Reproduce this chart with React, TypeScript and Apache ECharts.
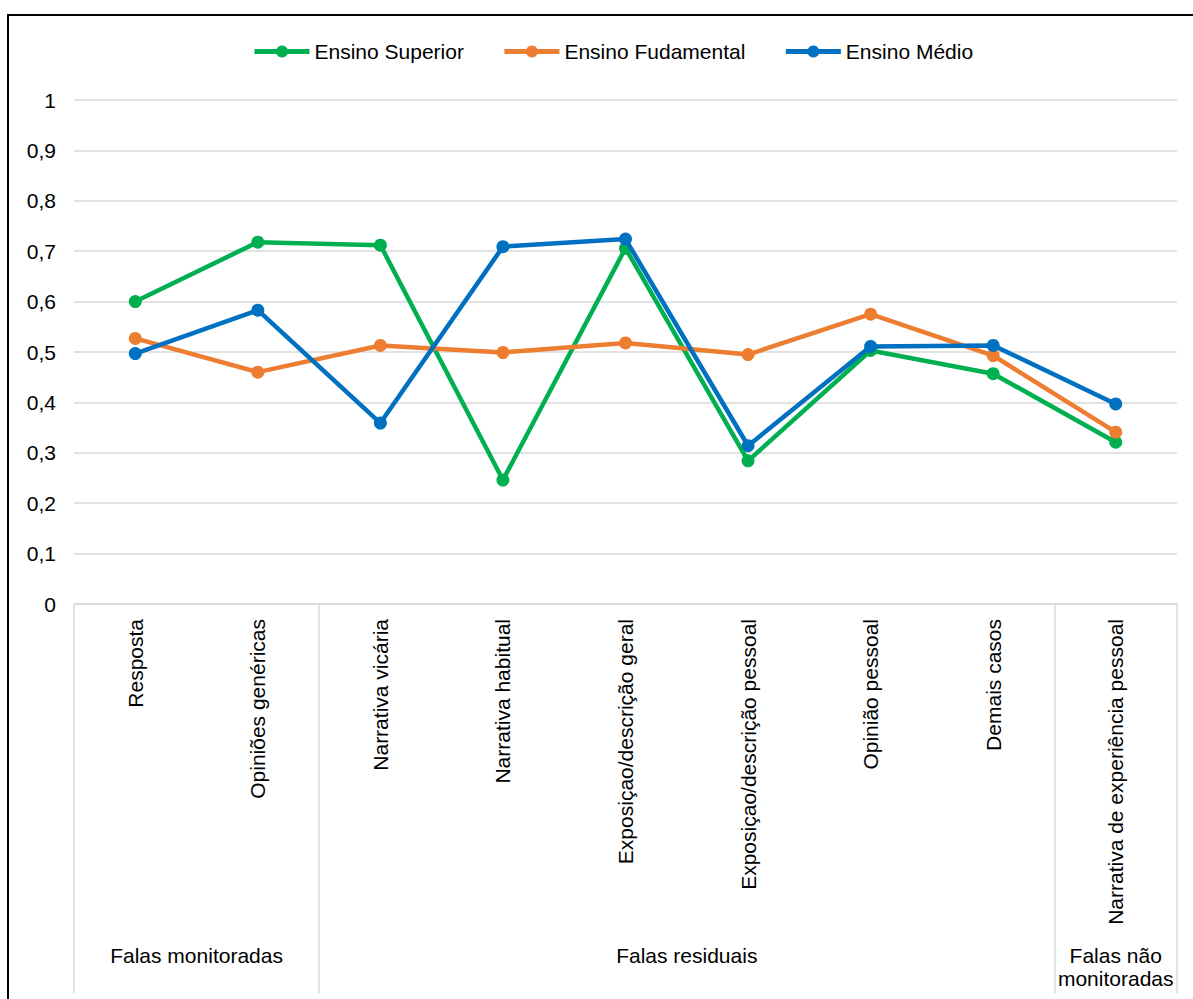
import React, { useEffect, useRef } from "react";
import * as echarts from "echarts";

// Categories (discourse types) along the horizontal axis
const categories = [
  "Resposta",
  "Opiniões genéricas",
  "Narrativa vicária",
  "Narrativa habitual",
  "Exposiçao/descrição geral",
  "Exposiçao/descrição pessoal",
  "Opinião pessoal",
  "Demais casos",
  "Narrativa de experiência pessoal",
];

// Group headings and the category positions they are centred on
const groupLabels = ["Falas monitoradas", "Falas residuais", "Falas não\nmonitoradas"];
const groupCenters = [1, 5, 8.5];
// Category indices where a group starts (tick boundaries)
const groupStarts = [0, 2, 8];

const seriesNames = ["Ensino Superior", "Ensino Fudamental", "Ensino Médio"];

const superior = [0.6, 0.718, 0.712, 0.246, 0.706, 0.284, 0.503, 0.457, 0.321];
const fundamental = [0.527, 0.46, 0.513, 0.499, 0.518, 0.495, 0.575, 0.493, 0.341];
const medio = [0.497, 0.583, 0.359, 0.709, 0.724, 0.314, 0.511, 0.513, 0.397];

const yTicks = { min: 0, max: 1, interval: 0.1 };

const colors = ["#00B050", "#ED7D31", "#0070C0"];

const FONT = "'Liberation Sans', Arial, sans-serif";
const GRID_COLOR = "#D9D9D9";

export default function App() {
  const ref = useRef<HTMLDivElement>(null);

  useEffect(() => {
    document.body.style.margin = "0";
    if (!ref.current) return;
    const chart = echarts.init(ref.current, undefined, { renderer: "svg" });

    const values = [superior, fundamental, medio];

    chart.setOption({
      animation: false,
      backgroundColor: "#fff",
      textStyle: { fontFamily: FONT },
      graphic: [
        {
          type: "rect",
          z: -10,
          shape: { x: 8, y: 15, width: 1220, height: 1100 },
          style: { fill: "none", stroke: "#000", lineWidth: 2 },
        },
      ],
      legend: {
        left: 247,
        top: 36,
        itemWidth: 55,
        itemHeight: 15,
        itemGap: 38,
        lineStyle: { width: 5 },
        textStyle: { fontSize: 21, color: "#000", fontFamily: FONT },
        data: seriesNames,
      },
      grid: { left: 74, right: 16, top: 100, bottom: 395, containLabel: false },
      xAxis: [
        {
          type: "category",
          data: categories,
          boundaryGap: true,
          axisLine: { show: true, lineStyle: { color: GRID_COLOR, width: 1.5 } },
          axisTick: {
            show: true,
            length: 389,
            interval: (index: number) => groupStarts.includes(index),
            lineStyle: { color: GRID_COLOR, width: 1.5 },
          },
          axisLabel: {
            interval: 0,
            rotate: 90,
            margin: 15,
            fontSize: 21,
            color: "#000",
            fontFamily: FONT,
          },
          splitLine: { show: false },
        },
        {
          type: "value",
          position: "bottom",
          min: 0,
          max: categories.length,
          offset: 333,
          axisLine: { show: false },
          axisTick: { show: false },
          splitLine: { show: false },
          axisLabel: {
            customValues: groupCenters,
            formatter: (v: number) => {
              const i = groupCenters.indexOf(v);
              return i >= 0 ? groupLabels[i] : "";
            },
            margin: 7,
            fontSize: 21,
            lineHeight: 23,
            color: "#000",
            fontFamily: FONT,
            verticalAlign: "top",
          },
        },
      ],
      yAxis: {
        type: "value",
        min: yTicks.min,
        max: yTicks.max,
        interval: yTicks.interval,
        axisLine: { show: false },
        axisTick: { show: false },
        axisLabel: {
          margin: 18,
          fontSize: 21,
          color: "#000",
          fontFamily: FONT,
          formatter: (v: number) => String(Number(v.toFixed(1))).replace(".", ","),
        },
        splitLine: { lineStyle: { color: GRID_COLOR, width: 1.5 } },
      },
      series: seriesNames.map((name, i) => ({
        name,
        type: "line",
        xAxisIndex: 0,
        data: values[i],
        symbol: "circle",
        symbolSize: 13,
        lineStyle: { color: colors[i], width: 4.5 },
        itemStyle: { color: colors[i] },
        z: 2 + i,
      })),
    });

    return () => chart.dispose();
  }, []);

  return <div ref={ref} style={{ width: 1193, height: 999 }} />;
}
